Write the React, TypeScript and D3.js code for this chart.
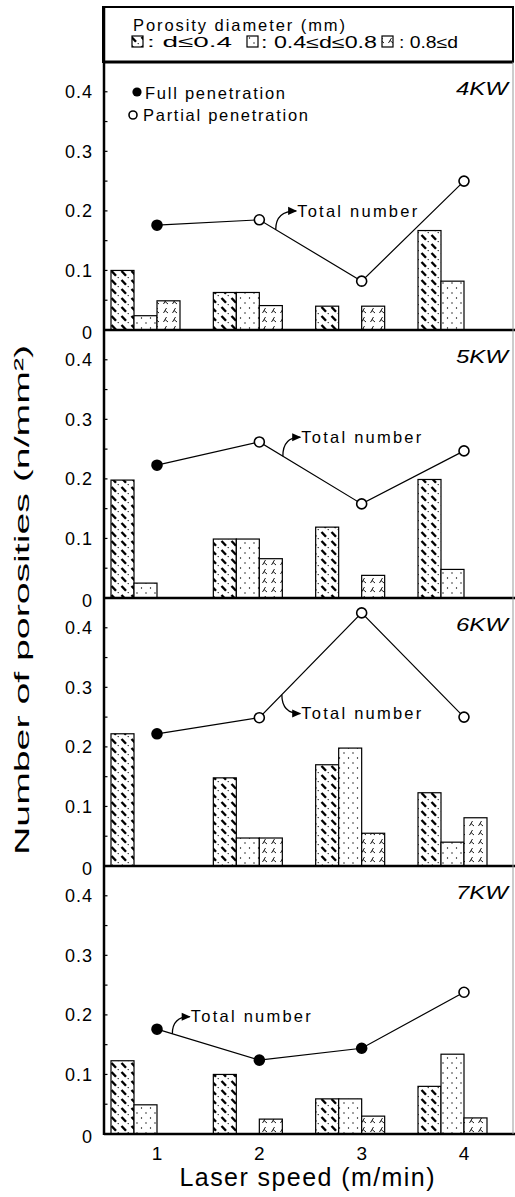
import { useEffect, useRef } from 'react'
import * as d3 from 'd3'

// Laser speed (m/min) on x, one panel per laser power
const speeds = [1, 2, 3, 4]
const powers = ['4KW', '5KW', '6KW', '7KW']
const sizeClasses = ['d≤0.4', '0.4≤d≤0.8', '0.8≤d']

// bar heights per speed: [d≤0.4, 0.4≤d≤0.8, 0.8≤d]  (n/mm²)
const bars4KW = [[0.1, 0.024, 0.049], [0.063, 0.063, 0.041], [0.04, 0, 0.04], [0.167, 0.082, 0]]
const bars5KW = [[0.198, 0.025, 0], [0.099, 0.099, 0.066], [0.119, 0, 0.038], [0.199, 0.048, 0]]
const bars6KW = [[0.222, 0, 0], [0.148, 0.047, 0.047], [0.17, 0.198, 0.055], [0.123, 0.04, 0.081]]
const bars7KW = [[0.123, 0.049, 0], [0.1, 0, 0.025], [0.059, 0.059, 0.03], [0.08, 0.134, 0.027]]

// total number of porosities
const total4KW = [0.176, 0.185, 0.082, 0.25]
const total5KW = [0.223, 0.262, 0.158, 0.247]
const total6KW = [0.222, 0.249, 0.425, 0.25]
const total7KW = [0.176, 0.124, 0.144, 0.238]

// true = full penetration (filled dot), false = partial (open dot)
const full4KW = [true, false, false, false]
const full5KW = [true, false, false, false]
const full6KW = [true, false, false, false]
const full7KW = [true, true, true, false]

// "Total number" callout: segment index, position on segment, text anchor (data units)
const calloutSegment = [1, 1, 1, 0]
const calloutT = [0.16, 0.23, 0.22, 0.15]
const calloutX = [2.37, 2.41, 2.41, 1.33]
const calloutY = [0.2, 0.27, 0.256, 0.197]

const yTickLabels = [0, 0.1, 0.2, 0.3, 0.4]
const yTickMarks = [0.05, 0.1, 0.15, 0.2, 0.25, 0.3, 0.35, 0.4, 0.45]

const barSets = [bars4KW, bars5KW, bars6KW, bars7KW]
const totalSets = [total4KW, total5KW, total6KW, total7KW]
const fullSets = [full4KW, full5KW, full6KW, full7KW]

const FONT = "'Liberation Sans', Arial, Helvetica, sans-serif"
const patternIds = ['pat-small', 'pat-mid', 'pat-large']

export default function App() {
  const svgRef = useRef<SVGSVGElement>(null)

  useEffect(() => {
    if (!svgRef.current) return
    const svg = d3.select(svgRef.current)
    svg.selectAll('*').remove()

    const width = 515
    const left = 104
    const right = 513
    const legendTop = 7
    const panelTop = 62
    const panelH = 268

    const x = d3.scaleLinear().domain([1, 4]).range([157, 464])
    const sub = d3.scaleBand<number>().domain([0, 1, 2]).range([-34.5, 34.5])
    const bw = sub.bandwidth()

    // patterns
    const defs = svg.append('defs')
    const p1 = defs.append('pattern').attr('id', patternIds[0])
      .attr('patternUnits', 'userSpaceOnUse').attr('width', 10).attr('height', 9)
    p1.append('rect').attr('width', 10).attr('height', 9).attr('fill', '#fff')
    p1.append('path').attr('d', 'M1.5,1 L6,5.8').attr('stroke', '#000').attr('stroke-width', 2.4)
    p1.append('circle').attr('cx', 8.2).attr('cy', 7.6).attr('r', 0.7).attr('fill', '#000')

    const p2 = defs.append('pattern').attr('id', patternIds[1])
      .attr('patternUnits', 'userSpaceOnUse').attr('width', 9).attr('height', 10)
    p2.append('rect').attr('width', 9).attr('height', 10).attr('fill', '#fff')
    p2.append('circle').attr('cx', 2).attr('cy', 3).attr('r', 0.7).attr('fill', '#000')
    p2.append('circle').attr('cx', 6.5).attr('cy', 8).attr('r', 0.7).attr('fill', '#000')

    const p3 = defs.append('pattern').attr('id', patternIds[2])
      .attr('patternUnits', 'userSpaceOnUse').attr('width', 9).attr('height', 9)
    p3.append('rect').attr('width', 9).attr('height', 9).attr('fill', '#fff')
    p3.append('path').attr('d', 'M1.5,7 L4.5,2 M3,4.5 L6,7')
      .attr('stroke', '#000').attr('stroke-width', 0.9).attr('fill', 'none')

    defs.append('marker').attr('id', 'arrow')
      .attr('viewBox', '0 0 10 10').attr('refX', 9).attr('refY', 5)
      .attr('markerWidth', 13).attr('markerHeight', 9)
      .attr('markerUnits', 'userSpaceOnUse').attr('orient', 'auto')
      .append('path').attr('d', 'M0,0.5 L10,5 L0,9.5 Z').attr('fill', '#000')

    svg.append('rect').attr('width', width).attr('height', 1197).attr('fill', '#fff')

    // legend box
    const box = svg.append('g').attr('font-family', FONT)
    box.append('rect').attr('x', left - 1).attr('y', legendTop)
      .attr('width', right - left + 1).attr('height', panelTop - legendTop)
      .attr('fill', 'none').attr('stroke', '#000').attr('stroke-width', 2)
    box.append('text').attr('x', 133).attr('y', 25).attr('dy', '0.35em')
      .attr('font-size', 16.5).attr('textLength', 212).attr('lengthAdjust', 'spacing')
      .text('Porosity diameter (mm)')
    const legendIconX = [132, 247, 382]
    const legendTextX = [147, 261, 399]
    const legendTextLen = [85, 116, 59]
    const legendFont = [15.5, 16, 16]
    sizeClasses.forEach((label, k) => {
      box.append('rect').attr('x', legendIconX[k]).attr('y', 36).attr('width', 11).attr('height', 11)
        .attr('fill', `url(#${patternIds[k]})`).attr('stroke', '#000').attr('stroke-width', 1.2)
      box.append('text').attr('x', legendTextX[k]).attr('y', 42).attr('dy', '0.35em')
        .attr('font-size', legendFont[k]).attr('textLength', legendTextLen[k]).attr('lengthAdjust', 'spacingAndGlyphs')
        .text(`: ${label}`)
    })

    powers.forEach((power, i) => {
      const zero = panelTop + panelH * (i + 1)
      const y = d3.scaleLinear().domain([0, 0.45]).range([zero, zero - panelH])
      const g = svg.append('g').attr('font-family', FONT)

      // bars
      barSets[i].forEach((vals, j) => {
        vals.forEach((v, k) => {
          if (v <= 0) return
          g.append('rect')
            .attr('x', x(speeds[j]) + (sub(k) ?? 0) - bw / 2)
            .attr('y', y(v))
            .attr('width', bw)
            .attr('height', zero - y(v))
            .attr('fill', `url(#${patternIds[k]})`)
            .attr('stroke', '#000').attr('stroke-width', 1.2)
        })
      })

      // total number line
      const line = d3.line<number>().x((_, j) => x(speeds[j])).y(d => y(d))
      g.append('path').datum(totalSets[i]).attr('d', line)
        .attr('fill', 'none').attr('stroke', '#000').attr('stroke-width', 1.2)
      totalSets[i].forEach((v, j) => {
        const full = fullSets[i][j]
        g.append('circle').attr('cx', x(speeds[j])).attr('cy', y(v)).attr('r', 5)
          .attr('fill', full ? '#000' : '#fff').attr('stroke', '#000').attr('stroke-width', 1.6)
      })

      // callout
      const s = calloutSegment[i]
      const t = calloutT[i]
      const sx = x(speeds[s]) + (x(speeds[s + 1]) - x(speeds[s])) * t
      const sy = y(totalSets[i][s]) + (y(totalSets[i][s + 1]) - y(totalSets[i][s])) * t
      const tx = x(calloutX[i])
      const ty = y(calloutY[i])
      g.append('path').attr('d', `M${sx},${sy} Q${sx},${ty} ${tx - 1},${ty}`)
        .attr('fill', 'none').attr('stroke', '#000').attr('stroke-width', 1.3)
        .attr('marker-end', 'url(#arrow)')
      g.append('text').attr('x', tx).attr('y', ty).attr('dy', '0.35em')
        .attr('font-size', 16.5).attr('textLength', 120).attr('lengthAdjust', 'spacing')
        .text('Total number')

      // zero line
      g.append('line').attr('x1', left).attr('x2', width).attr('y1', zero).attr('y2', zero)
        .attr('stroke', '#000').attr('stroke-width', 2.5)

      // y ticks
      yTickMarks.forEach(v => {
        g.append('line').attr('x1', left).attr('x2', left + 3.5).attr('y1', y(v)).attr('y2', y(v))
          .attr('stroke', '#000').attr('stroke-width', 1.2)
      })
      yTickLabels.forEach(v => {
        g.append('text').attr('x', 93).attr('y', y(v) + (v === 0 ? 3 : 0)).attr('dy', '0.35em')
          .attr('text-anchor', 'end').attr('font-size', 18).attr('letter-spacing', 1)
          .text(v === 0 ? '0' : d3.format('.1f')(v))
      })

      // power label
      g.append('text').attr('x', 508).attr('y', zero - panelH + 27).attr('dy', '0.35em')
        .attr('text-anchor', 'end').attr('font-size', 18).attr('font-style', 'italic')
        .attr('textLength', 52).attr('lengthAdjust', 'spacingAndGlyphs')
        .text(power)
    })

    // penetration legend (top panel)
    const lg = svg.append('g').attr('font-family', FONT)
    lg.append('circle').attr('cx', 137).attr('cy', 92).attr('r', 4.6).attr('fill', '#000')
    lg.append('text').attr('x', 145).attr('y', 93).attr('dy', '0.35em').attr('font-size', 16.5)
      .attr('textLength', 140).attr('lengthAdjust', 'spacing').text('Full penetration')
    lg.append('circle').attr('cx', 133).attr('cy', 115).attr('r', 4).attr('fill', '#fff')
      .attr('stroke', '#000').attr('stroke-width', 1.6)
    lg.append('text').attr('x', 143).attr('y', 115).attr('dy', '0.35em').attr('font-size', 16.5)
      .attr('textLength', 165).attr('lengthAdjust', 'spacing').text('Partial penetration')

    // frame
    const bottom = panelTop + panelH * 4
    svg.append('line').attr('x1', left).attr('x2', left).attr('y1', legendTop - 1).attr('y2', bottom + 1)
      .attr('stroke', '#000').attr('stroke-width', 2.5)
    svg.append('line').attr('x1', left).attr('x2', right).attr('y1', panelTop).attr('y2', panelTop)
      .attr('stroke', '#000').attr('stroke-width', 3)
    svg.append('line').attr('x1', right).attr('x2', right).attr('y1', panelTop).attr('y2', bottom)
      .attr('stroke', '#999').attr('stroke-width', 1)

    // x axis labels
    const xg = svg.append('g').attr('font-family', FONT)
    speeds.forEach(s => {
      xg.append('text').attr('x', x(s)).attr('y', 1153).attr('dy', '0.35em')
        .attr('text-anchor', 'middle').attr('font-size', 19).text(String(s))
    })
    xg.append('text').attr('x', 307).attr('y', 1177).attr('dy', '0.35em')
      .attr('text-anchor', 'middle').attr('font-size', 25)
      .attr('textLength', 255).attr('lengthAdjust', 'spacing')
      .text('Laser speed (m/min)')

    // y axis title
    xg.append('text').attr('transform', 'translate(22,600) rotate(-90)').attr('dy', '0.35em')
      .attr('text-anchor', 'middle').attr('font-size', 21)
      .attr('textLength', 510).attr('lengthAdjust', 'spacingAndGlyphs')
      .text('Number of porosities (n/mm²)')
  }, [])

  return (
    <svg
      ref={svgRef}
      width={515}
      height={1197}
      style={{ position: 'absolute', left: 0, top: 0, background: '#fff' }}
    />
  )
}
